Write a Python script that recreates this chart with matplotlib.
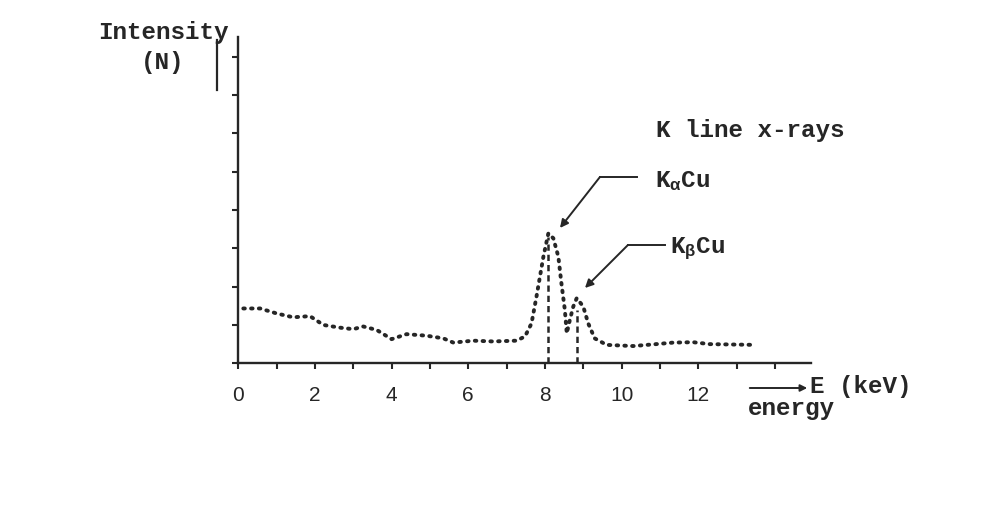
#!/usr/bin/env python3
"""
X-ray intensity vs energy, Cu target: continuous spectrum + K line x-rays
"""
import matplotlib
matplotlib.use("Agg")
import matplotlib.pyplot as plt

INK = '#262626'
W, H = 984, 523

# spectrum (energy keV, intensity in tick units)
energy = [0.13, 0.57, 1.0, 1.43, 1.87, 2.22, 2.65, 3.0, 3.26, 3.61, 4.0, 4.39,
          4.91, 5.35, 5.61, 6.13, 6.65, 7.26, 7.48, 7.65, 7.78, 7.87, 7.96,
          8.09, 8.22, 8.35, 8.43, 8.52, 8.57, 8.65, 8.74, 8.83, 9.0, 9.13,
          9.3, 9.61, 10.3, 10.9, 11.35, 11.87, 12.3, 12.9, 13.5]
intensity = [1.43, 1.43, 1.30, 1.20, 1.23, 1.00, 0.93, 0.89, 0.96, 0.87, 0.63,
             0.76, 0.72, 0.65, 0.54, 0.59, 0.57, 0.59, 0.70, 1.04, 1.74, 2.26,
             2.78, 3.39, 3.26, 2.78, 2.09, 1.39, 0.78, 1.13, 1.48, 1.70, 1.48,
             1.04, 0.65, 0.48, 0.45, 0.50, 0.54, 0.55, 0.50, 0.49, 0.48]

# characteristic lines (dashed drop lines)
line_names = ['K$_{\\alpha}$Cu', 'K$_{\\beta}$Cu']
line_energy = [8.09, 8.83]
line_top = [3.30, 1.40]

x_ticks = list(range(0, 15))
x_labels = ['0', '', '2', '', '4', '', '6', '', '8', '', '10', '', '12', '', '']
y_ticks = list(range(0, 9))

MONO = 'Liberation Mono'
plt.rcParams['mathtext.fontset'] = 'custom'
plt.rcParams['mathtext.rm'] = MONO + ':bold'
plt.rcParams['mathtext.it'] = MONO + ':bold'
TXT = dict(family=MONO, fontsize=17.5, color=INK, weight='bold')


def fx(px):
    return px / W


def fy(py):
    return 1 - py / H


fig = plt.figure(figsize=(W / 100, H / 100), dpi=100, facecolor='white')
ax = fig.add_axes([fx(238.3), fy(363.3), (811.3 - 238.3) / W, (363.3 - 37) / H])
ax.set_facecolor('none')

ax.plot(energy, intensity, color=INK, lw=2.8, ls=(0, (0.4, 1.6)),
        dash_capstyle='round')
ax.vlines(line_energy, 0, line_top, colors=INK, lw=1.8, linestyles=(0, (2.5, 1.6)))

ax.set_xlim(0, 14.95)
ax.set_ylim(0, 8.51)
for s in ['top', 'right']:
    ax.spines[s].set_visible(False)
for s in ['left', 'bottom']:
    ax.spines[s].set_linewidth(1.7)
    ax.spines[s].set_color(INK)

ax.set_xticks(x_ticks)
ax.set_xticklabels(x_labels, fontsize=15, family='Liberation Sans', color=INK)
ax.set_yticks(y_ticks)
ax.set_yticklabels([])
ax.tick_params(axis='x', direction='out', length=4, width=1.5, color=INK, pad=12)
ax.tick_params(axis='y', direction='out', length=4, width=1.5, color=INK)


def px2data(px, py):
    return (px - 238.3) / 38.33, (363.3 - py) / 38.33


# annotations for K alpha / K beta
arrow_kw = dict(arrowstyle='-|>', color=INK, lw=1.4, mutation_scale=12,
                shrinkA=0, shrinkB=0)
for name, head, elbow, end, tx in [
        (line_names[0], (560, 228), (600, 177), (637, 177), (655, 181)),
        (line_names[1], (585, 288), (628, 245), (665, 245), (670, 249))]:
    ax.annotate('', xy=px2data(*head), xytext=px2data(*elbow),
                arrowprops=arrow_kw, annotation_clip=False)
    ex, ey = px2data(*elbow)
    nx, ny = px2data(*end)
    ax.plot([ex, nx], [ey, ny], color=INK, lw=1.4, clip_on=False)
    fig.text(fx(tx[0]), fy(tx[1]), name, va='center', ha='left', **TXT)

fig.text(fx(656), fy(130), 'K line x-rays', va='center', ha='left', **TXT)

# y-axis label and marker
fig.text(fx(163), fy(33), 'Intensity', va='center', ha='center', **TXT)
fig.text(fx(163), fy(63), '(N)', va='center', ha='center', **TXT)
fig.add_artist(plt.Line2D([fx(217), fx(217)], [fy(40), fy(90)], color=INK, lw=1.6))

# x-axis label with arrow
fig.add_artist(matplotlib.patches.FancyArrowPatch(
    (fx(747), fy(388)), (fx(810), fy(388)), transform=fig.transFigure,
    arrowstyle='-|>', mutation_scale=10, color=INK, lw=1.4))
fig.text(fx(810), fy(386), 'E (keV)', va='center', ha='left', **TXT)
fig.text(fx(748), fy(408), 'energy', va='center', ha='left', **TXT)

fig.savefig('out.png', dpi=100, facecolor='white')
